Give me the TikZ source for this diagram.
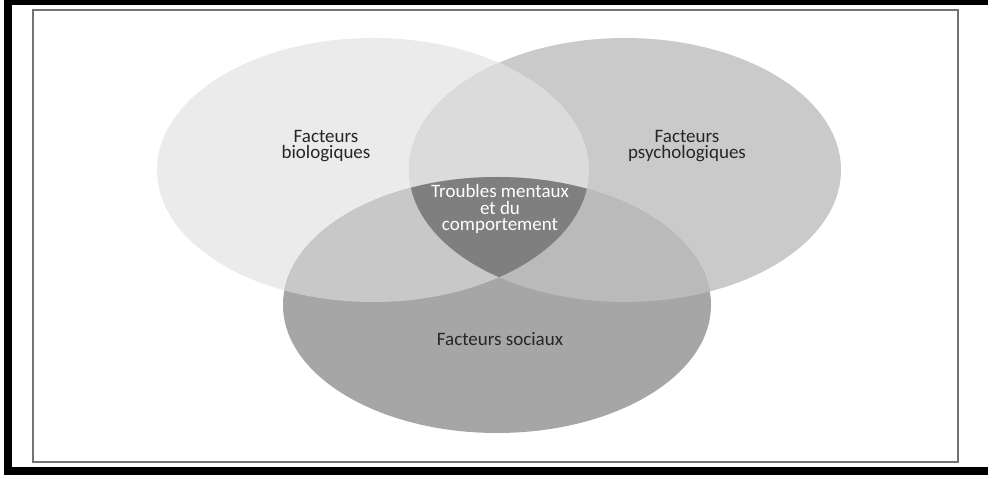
\documentclass[tikz,border=0pt]{standalone}
\usepackage{fontspec}
\setmainfont{Carlito}
\definecolor{bioclr}{HTML}{EBEBEB}
\definecolor{psyclr}{HTML}{CACACA}
\definecolor{socclr}{HTML}{A6A6A6}
\definecolor{biopsyclr}{HTML}{DBDBDB}
\definecolor{biosocclr}{HTML}{C8C8C8}
\definecolor{psysocclr}{HTML}{BABABA}
\definecolor{coreclr}{HTML}{7F7F7F}

\begin{document}
\begin{tikzpicture}[x=0.025cm, y=-0.025cm,
  venntext/.style={align=center, text=black!85, font=\fontsize{13.5}{12}\selectfont}]
\useasboundingbox (0,0) rectangle (988,477);

% Frames
\draw[line width=5.7pt] (8,1) rectangle (1010,471);
\draw[black!55, line width=1.2pt] (33,10) rectangle (958,462);

% Ellipses
\def\bioset{(373,170) ellipse [x radius=216, y radius=132]}
\def\psyset{(625,170) ellipse [x radius=216, y radius=132]}
\def\socset{(497,305) ellipse [x radius=214, y radius=128]}
\fill[bioclr] \bioset;
\fill[psyclr] \psyset;
\fill[socclr] \socset;

% Overlaps
\begin{scope}
  \clip \bioset;
  \fill[biopsyclr] \psyset;
  \fill[biosocclr] \socset;
\end{scope}
\begin{scope}
  \clip \psyset;
  \fill[psysocclr] \socset;
  \clip \bioset;
  \fill[coreclr] \socset;
\end{scope}

% Labels
\node[venntext] (bio) at (326,146) {Facteurs\\biologiques};
\node[venntext] (psy) at (687,146) {Facteurs\\psychologiques};
\node[venntext] (soc) at (500,339) {Facteurs sociaux};
\node[venntext, text=white] (core) at (500,209) {Troubles mentaux\\et du\\comportement};

\end{tikzpicture}
\end{document}
